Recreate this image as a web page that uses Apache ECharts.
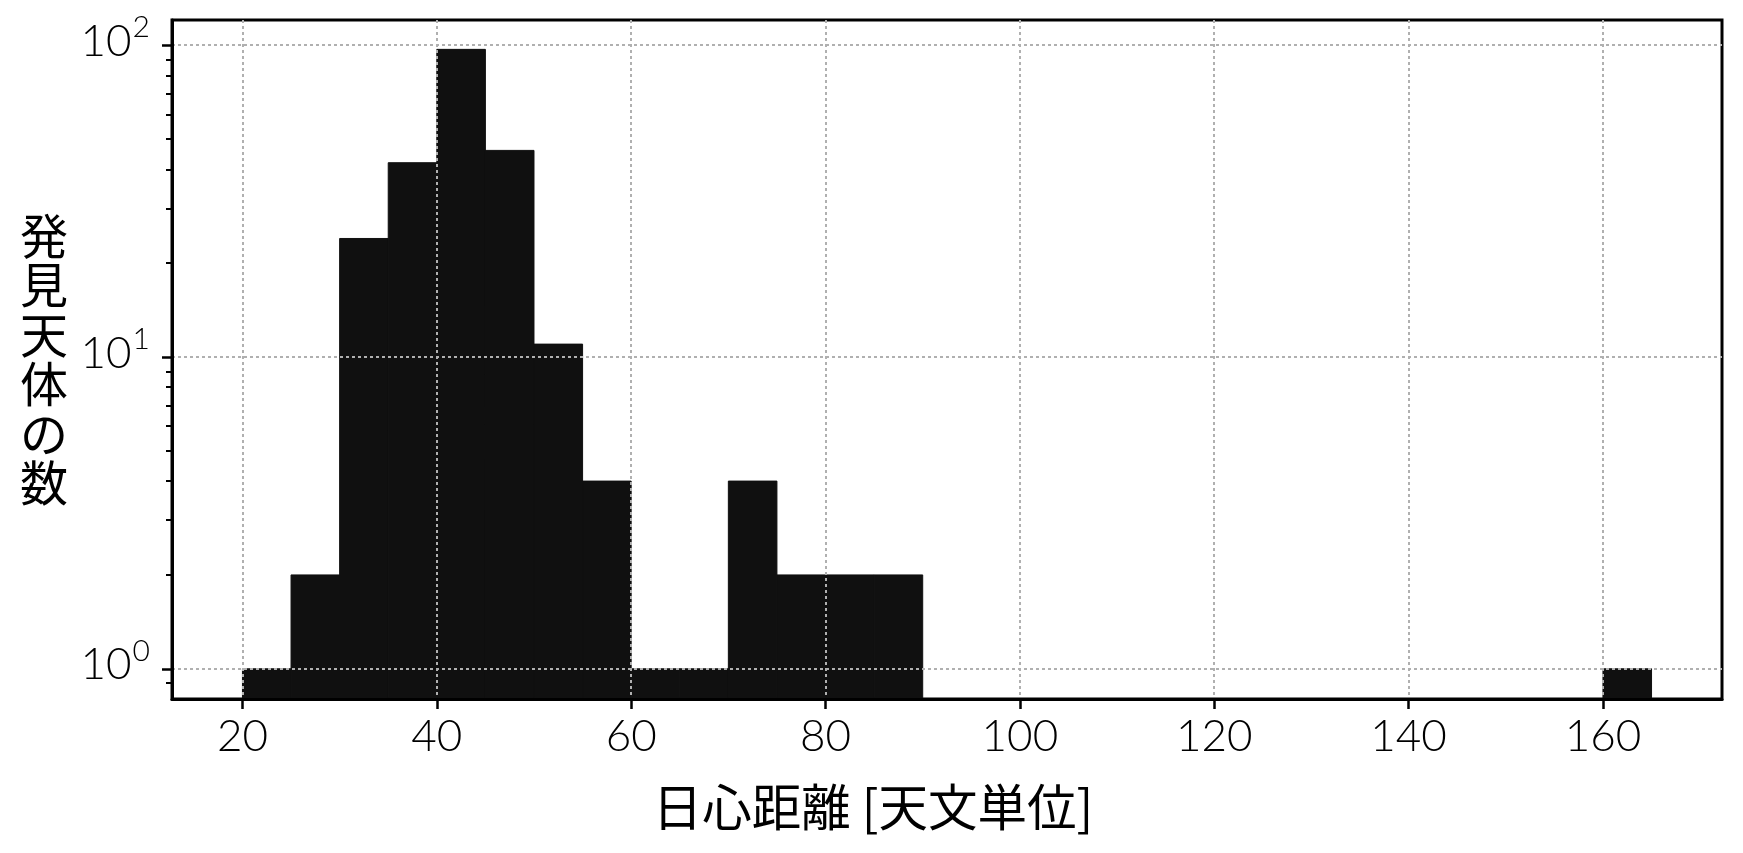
<!DOCTYPE html>
<html>
<head>
<meta charset="utf-8">
<script src="https://cdn.jsdelivr.net/npm/echarts@6/dist/echarts.min.js"></script>
<style>
  html, body { margin: 0; padding: 0; background: #fff; }
  #chart { width: 1743px; height: 853px; }
</style>
</head>
<body>
<div id="chart"></div>
<script>
// histogram bins (left edge, 5 AU wide) and counts
const binStarts = [20, 25, 30, 35, 40, 45, 50, 55, 60, 65, 70, 75, 80, 85, 160];
const binCounts = [1, 2, 24, 42, 97, 46, 11, 4, 1, 1, 4, 2, 2, 2, 1];
const binWidth = 5;

const xTicks = [20, 40, 60, 80, 100, 120, 140, 160];
const yTicks = [1, 10, 100];
const yMinorTicks = [0.9, 2, 3, 4, 5, 6, 7, 8, 9, 20, 30, 40, 50, 60, 70, 80, 90];

const xName = "日心距離 [天文単位]";
const yName = "発見天体の数";

const xMin = 12.75, xMax = 172.25;
const yMin = 0.8, yMax = 120.5;

const tickFont = "Lato";
const cjkFont = "Noto Sans CJK JP";

const chart = echarts.init(document.getElementById("chart"), null, { renderer: "canvas" });

const gridLine = { show: true, lineStyle: { color: "#b0b0b0", width: 2, type: [3, 3] } };

const option = {
  animation: false,
  backgroundColor: "#fff",
  grid: {
    left: 172, right: 21, top: 20, bottom: 154,
    show: true, borderColor: "#000", borderWidth: 3, backgroundColor: "transparent"
  },
  xAxis: {
    type: "value",
    min: xMin, max: xMax,
    z: 5,
    axisLine: { show: true, onZero: false, lineStyle: { color: "#000", width: 3 } },
    axisTick: { show: true, customValues: xTicks, length: 10, lineStyle: { color: "#000", width: 2.5 } },
    axisLabel: {
      customValues: xTicks,
      margin: 16,
      fontFamily: tickFont, fontWeight: 300, fontSize: 44, color: "#000"
    },
    splitLine: gridLine,
    name: xName,
    nameLocation: "middle",
    nameGap: 83,
    nameTextStyle: {
      fontFamily: cjkFont, fontSize: 49.5, lineHeight: 49.5, color: "#000",
      padding: [0, 148, 0, 0]
    }
  },
  yAxis: [
    {
      type: "log",
      logBase: 10,
      min: yMin, max: yMax,
      z: 5,
      axisLine: { show: true, onZero: false, lineStyle: { color: "#000", width: 3 } },
      axisTick: { show: true, customValues: yTicks, length: 10, lineStyle: { color: "#000", width: 2.5 } },
      axisLabel: {
        customValues: yTicks,
        margin: 22,
        padding: [0, 0, 7, 0],
        formatter: function (v) {
          const e = Math.round(Math.log10(v));
          return "{b|10}{s|" + e + "}";
        },
        rich: {
          b: { fontFamily: tickFont, fontWeight: 300, fontSize: 44, lineHeight: 44, color: "#000", verticalAlign: "bottom" },
          s: { fontFamily: tickFont, fontWeight: 300, fontSize: 30, lineHeight: 30, color: "#000", verticalAlign: "bottom", padding: [0, 0, 21, 1] }
        }
      },
      splitLine: gridLine,
      name: yName.split("").join("\n"),
      nameLocation: "middle",
      nameRotate: 0,
      nameGap: 104,
      nameTextStyle: { fontFamily: cjkFont, fontSize: 48, lineHeight: 49.5, color: "#000" }
    },
    {
      // minor ticks of the log axis
      type: "log",
      logBase: 10,
      min: yMin, max: yMax,
      position: "left",
      z: 5,
      axisLine: { show: false },
      axisTick: { show: true, customValues: yMinorTicks, length: 6, lineStyle: { color: "#000", width: 2 } },
      axisLabel: { show: false },
      splitLine: { show: false }
    }
  ],
  series: [
    {
      type: "custom",
      yAxisIndex: 0,
      clip: true,
      encode: { x: [0, 1], y: 2 },
      data: binStarts.map((s, i) => [s, s + binWidth, binCounts[i]]),
      renderItem: function (params, api) {
        const topLeft = api.coord([api.value(0), api.value(2)]);
        const bottomRight = api.coord([api.value(1), yMin]);
        return {
          type: "rect",
          shape: {
            x: topLeft[0], y: topLeft[1],
            width: bottomRight[0] - topLeft[0],
            height: bottomRight[1] - topLeft[1]
          },
          style: { fill: "#101010", stroke: "#101010", lineWidth: 1 }
        };
      }
    }
  ]
};

chart.setOption(option);
</script>
</body>
</html>
